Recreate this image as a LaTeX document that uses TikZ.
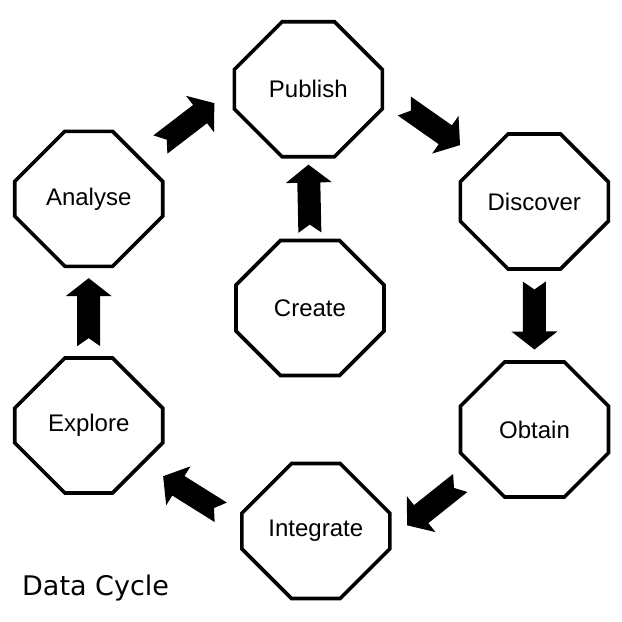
\documentclass[tikz,border=0pt]{standalone}
\usepackage{fontspec}
\setmainfont{Liberation Sans}
\newfontfamily\titlefont{DejaVu Sans}
\usepackage{tikz}
\usetikzlibrary{shapes.misc, calc}
% block arrow with notched tail, centred between two border points
\newcommand{\cyclearrow}[2]{%
  \fill let \p1=(#1), \p2=(#2), \n1={atan2(\y2-\y1,\x2-\x1)} in
    {[shift={($(\p1)!0.5!(\p2)$)}, rotate=\n1]
     (-34pt,11.5pt) -- (16pt,11.5pt) -- (16pt,23pt) -- (34pt,0pt) -- (16pt,-23pt)
     -- (16pt,-11.5pt) -- (-34pt,-11.5pt) -- (-26pt,0pt) -- cycle};
}

\begin{document}
\begin{tikzpicture}[
    x=1pt, y=-1pt,
    stage/.style={chamfered rectangle, chamfered rectangle xsep=40pt, chamfered rectangle ysep=39pt,
      draw, line width=3.6pt, fill=white, minimum width=148pt, minimum height=135pt,
      inner sep=0pt, font=\fontsize{24}{28}\selectfont}
]
\path[use as bounding box, fill=white] (0,0) rectangle (622,622);

% Outer ring
\node[stage] (publish) at (308.3,89.2) {Publish};
\node[stage] (discover) at (534.3,201.5) {Discover};
\node[stage] (obtain) at (534.5,429.5) {Obtain};
\node[stage] (integrate) at (315.8,531) {Integrate};
\node[stage] (explore) at (88.7,425.5) {Explore};
\node[stage] (analyse) at (88.7,198.8) {Analyse};

% Entry point
\node[stage] (create) at (310,308) {Create};

% Cycle arrows
\cyclearrow{analyse.37}{publish.180}
\cyclearrow{publish.-2}{discover.142}
\cyclearrow{discover.south}{obtain.north}
\cyclearrow{obtain.215}{integrate.-5}
\cyclearrow{integrate.175}{explore.-35}
\cyclearrow{explore.north}{analyse.south}
\cyclearrow{create.north}{publish.south}

\node[anchor=base west, font=\titlefont\fontsize{27}{32}\selectfont, inner sep=0pt] (title) at (22,595) {Data Cycle};
\end{tikzpicture}
\end{document}
